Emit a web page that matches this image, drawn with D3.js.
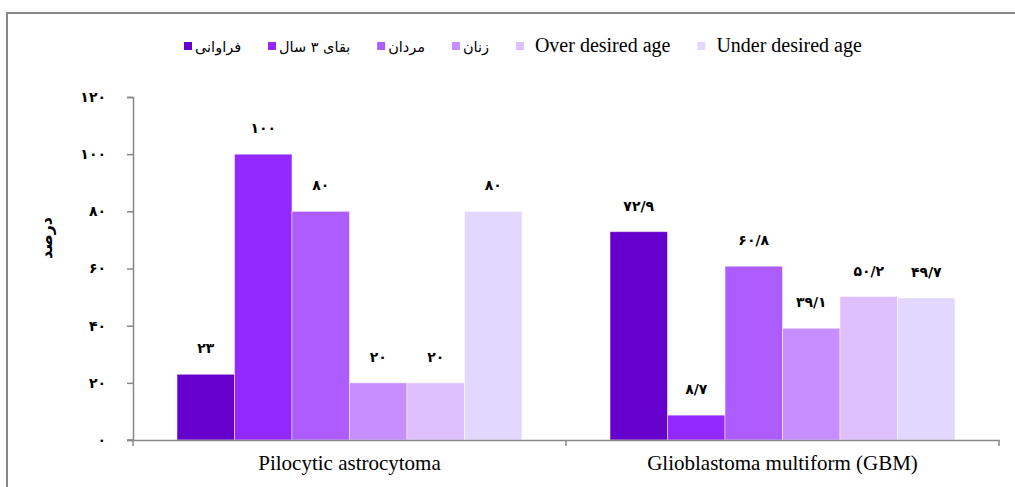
<!DOCTYPE html>
<html><head><meta charset="utf-8">
<script src="https://cdn.jsdelivr.net/npm/d3@7"></script>
<style>body{margin:0;background:#fff}svg{display:block}</style>
</head><body>
<script>
const categories = ["Pilocytic astrocytoma", "Glioblastoma multiform (GBM)"];
const seriesNames = ["فراوانی", "بقای ۳ سال", "مردان", "زنان", "Over desired age", "Under desired age"];
const seriesColors = ["#6600CC", "#9329FF", "#AC5CFF", "#C78EFF", "#DFC0FF", "#E2D8FF"];
const pilocytic = [23, 100, 80, 20, 20, 80];
const gbm = [72.9, 8.7, 60.8, 39.1, 50.2, 49.7];
const yTicks = [0, 20, 40, 60, 80, 100, 120];
const yTitle = "درصد";

const values = [pilocytic, gbm];
const W = 1015, H = 487;
const faDigits = "۰۱۲۳۴۵۶۷۸۹";
const toFa = v => String(v).replace(/[0-9]/g, d => faDigits[+d]).replace(".", "/");

const svg = d3.select("body").append("svg").attr("width", W).attr("height", H);
svg.append("rect").attr("x", 7).attr("y", 13).attr("width", 1100).attr("height", 600)
  .attr("fill", "none").attr("stroke", "#888").attr("stroke-width", 2);

const x0 = d3.scaleBand().domain(categories).range([133, 999]).paddingInner(0).paddingOuter(0);
const x1 = d3.scaleBand().domain(d3.range(seriesNames.length)).range([0, x0.bandwidth()]).paddingOuter(0.765).paddingInner(0);
const y = d3.scaleLinear().domain([0, 120]).range([440, 97]);

const fa = "'DejaVu Sans', sans-serif";
const serif = "'Liberation Serif', 'Times New Roman', serif";

// bars
categories.forEach((c, ci) => {
  const g = svg.append("g").attr("transform", `translate(${x0(c)},0)`);
  g.selectAll("rect").data(values[ci]).join("rect")
    .attr("x", (d, i) => x1(i)).attr("width", x1.bandwidth())
    .attr("y", d => y(d)).attr("height", d => y(0) - y(d))
    .attr("fill", (d, i) => seriesColors[i])
    .attr("stroke", "rgba(255,255,255,0.5)").attr("stroke-width", 1);
  g.selectAll("text").data(values[ci]).join("text")
    .attr("x", (d, i) => x1(i) + x1.bandwidth() / 2)
    .attr("y", d => y(d) - 21)
    .attr("text-anchor", "middle")
    .attr("font-family", fa).attr("font-weight", "bold").attr("font-size", 14)
    .attr("fill", "#000").attr("direction", "ltr")
    .text(d => toFa(d));
});

// y axis
const yAxis = d3.axisLeft(y).tickValues(yTicks).tickSize(6).tickPadding(21).tickFormat(d => toFa(d));
const ga = svg.append("g").attr("transform", "translate(133,0)").call(yAxis);
ga.select(".domain").attr("stroke", "#888").attr("stroke-width", 1.5);
ga.selectAll(".tick line").attr("stroke", "#888").attr("stroke-width", 1.5);
ga.selectAll(".tick text").attr("font-family", fa).attr("font-weight", "bold").attr("font-size", 14).attr("fill", "#000");

// x axis
const xAxis = d3.axisBottom(x0).tickSize(0).tickPadding(15);
const gx = svg.append("g").attr("transform", "translate(0,440)").call(xAxis);
gx.select(".domain").attr("stroke", "#888").attr("stroke-width", 1.5);
gx.selectAll(".tick text").style("font-family", serif).style("font-size", "21px").attr("fill", "#000");
const bounds = [x0.range()[0], x0(categories[1]), x0.range()[1]];
svg.selectAll(".xsep").data(bounds).join("line")
  .attr("x1", d => d).attr("x2", d => d).attr("y1", 440).attr("y2", 446)
  .attr("stroke", "#888").attr("stroke-width", 1.5);
svg.append("line").attr("x1", 127).attr("x2", 133).attr("y1", 440).attr("y2", 440).attr("stroke", "#888").attr("stroke-width", 1.5);

// y title
svg.append("text").attr("transform", "translate(52,238) rotate(-90)")
  .attr("text-anchor", "middle").attr("font-family", fa).attr("font-weight", "bold").attr("font-size", 16)
  .text(yTitle);

// legend
const lg = svg.append("g");
const items = lg.selectAll("g").data(seriesNames).join("g");
items.append("rect").attr("width", 8).attr("height", 8).attr("y", -10).attr("fill", (d, i) => seriesColors[i]);
items.append("text").attr("x", (d, i) => i < 4 ? 11 : 19).attr("y", 0)
  .style("font-family", (d, i) => i < 4 ? fa : serif)
  .style("font-size", (d, i) => i < 4 ? "14.5px" : "20px")
  .attr("fill", "#000").text(d => d);
const widths = [];
items.each(function () { widths.push(this.getBBox().width); });
const total = d3.sum(widths);
const gap = (862 - 184 - total) / (seriesNames.length - 1);
let cx = 184;
items.attr("transform", (d, i) => { const t = `translate(${cx},52)`; cx += widths[i] + gap; return t; });
</script>
</body></html>
